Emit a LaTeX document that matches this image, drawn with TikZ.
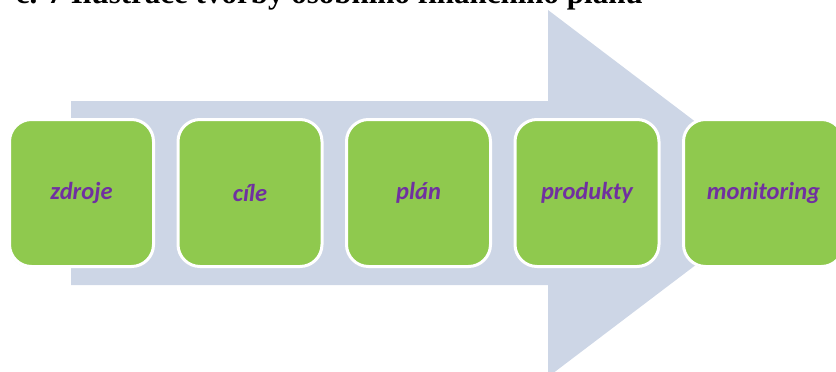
\documentclass[tikz,border=0pt]{standalone}
\usepackage{fontspec}
\usepackage{tikz}
\usetikzlibrary{shadows}
\newfontfamily\popisfont{Carlito}
\newfontfamily\titulfont{Liberation Serif}
\definecolor{sipka}{RGB}{205,214,230}
\definecolor{zelena}{RGB}{143,201,78}
\definecolor{fialova}{RGB}{112,48,160}

\begin{document}
\begin{tikzpicture}[x=1pt,y=-1pt,inner sep=0pt,node distance=168.5pt,
    krok/.style={draw=white,line width=3pt,fill=zelena,rounded corners=22pt,
        minimum width=144pt,minimum height=147pt,
        drop shadow={shadow xshift=-0.6pt,shadow yshift=-1pt,opacity=.35},
        font=\popisfont\fontsize{24.5}{28}\selectfont\bfseries\itshape,
        text=fialova}]
    \useasboundingbox (0,0) rectangle (836,372);
    \clip (0,0) rectangle (836,372);
        % nadpis (orezany nahore)
        \draw node [anchor=base east,font=\titulfont\bfseries\fontsize{31}{34}\selectfont]
            (T) at (643,4) {č. 7 Ilustrace tvorby osobního finančního plánu};
        % velka sipka v pozadi
        \fill [sipka] (71,101) -- (548,101) -- (548,10) -- (790,193.5)
            -- (548,377) -- (548,285) -- (71,285) -- cycle;
        % kroky planu
        \draw node [krok] (S01) at (81.5,193) {zdroje};
        \draw node [krok,right of=S01] (S02) {cíle};
        \draw node [krok,right of=S02] (S03) {plán};
        \draw node [krok,right of=S03] (S04) {produkty};
        \draw node [krok,minimum width=160pt,right of=S04,xshift=8pt]
            (S05) {monitoring};
    \end{tikzpicture}
\end{document}
